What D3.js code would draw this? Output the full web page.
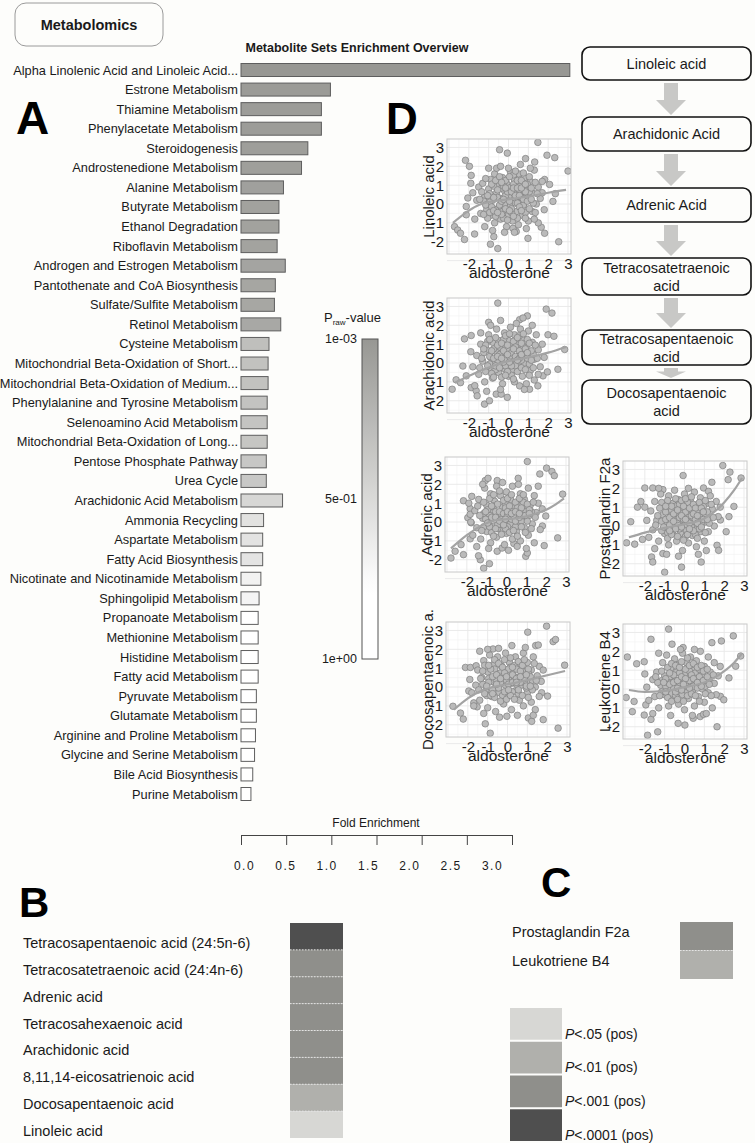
<!DOCTYPE html>
<html><head><meta charset="utf-8">
<script src="https://cdn.jsdelivr.net/npm/d3@7"></script>
<style>
body{margin:0;background:#fdfdfb;}
svg{display:block;font-family:"Liberation Sans",Arial,Helvetica,sans-serif;}
</style></head><body>
<svg id="fig" width="755" height="1143"></svg>
<script>
// ---------------- DATA ----------------
const barCategories = ["Alpha Linolenic Acid and Linoleic Acid...","Estrone Metabolism","Thiamine Metabolism","Phenylacetate Metabolism","Steroidogenesis","Androstenedione Metabolism","Alanine Metabolism","Butyrate Metabolism","Ethanol Degradation","Riboflavin Metabolism","Androgen and Estrogen Metabolism","Pantothenate and CoA Biosynthesis","Sulfate/Sulfite Metabolism","Retinol Metabolism","Cysteine Metabolism","Mitochondrial Beta-Oxidation of Short...","Mitochondrial Beta-Oxidation of Medium...","Phenylalanine and Tyrosine Metabolism","Selenoamino Acid Metabolism","Mitochondrial Beta-Oxidation of Long...","Pentose Phosphate Pathway","Urea Cycle","Arachidonic Acid Metabolism","Ammonia Recycling","Aspartate Metabolism","Fatty Acid Biosynthesis","Nicotinate and Nicotinamide Metabolism","Sphingolipid Metabolism","Propanoate Metabolism","Methionine Metabolism","Histidine Metabolism","Fatty acid Metabolism","Pyruvate Metabolism","Glutamate Metabolism","Arginine and Proline Metabolism","Glycine and Serine Metabolism","Bile Acid Biosynthesis","Purine Metabolism"];
const foldEnrichment = [3.64,0.99,0.89,0.89,0.74,0.67,0.47,0.42,0.42,0.40,0.49,0.38,0.37,0.44,0.31,0.30,0.30,0.29,0.29,0.29,0.28,0.28,0.46,0.25,0.24,0.24,0.22,0.20,0.19,0.19,0.19,0.19,0.17,0.17,0.16,0.15,0.13,0.11];
const pRaw = [0.002,0.03,0.04,0.04,0.05,0.06,0.07,0.08,0.08,0.09,0.10,0.11,0.12,0.13,0.30,0.32,0.32,0.33,0.34,0.35,0.36,0.37,0.48,0.56,0.57,0.58,0.68,0.70,0.80,0.82,0.84,0.85,0.88,0.90,0.92,0.94,0.96,0.98];
const foldTicks = [0,0.5,1,1.5,2,2.5,3];
const pLegendTicks = [0.001,0.5,1];
const pLegendLabels = ["1e-03","5e-01","1e+00"];

const flowSteps = [["Linoleic acid"],["Arachidonic Acid"],["Adrenic Acid"],["Tetracosatetraenoic","acid"],["Tetracosapentaenoic","acid"],["Docosapentaenoic","acid"]];

const scatterTicks = [-2,-1,0,1,2,3];
const gridMajor = [-3,-2,-1,0,1,2,3];
const gridMinor = [-2.5,-1.5,-0.5,0.5,1.5,2.5];

const linoleicPts = [[1.48,3.27],[-0.45,2.88],[-0.06,2.7],[-2.17,2.32],[1.94,2.59],[2.33,2.46],[3.0,1.75],[-1.88,1.52],[-1.97,2.0],[1.32,2.23],[0.86,2.41],[1.82,1.3],[2.07,1.04],[2.36,0.55],[2.24,0.14],[-2.72,-1.2],[-2.56,-1.38],[-2.42,-1.55],[-2.22,-1.88],[-1.71,-1.59],[-0.91,-2.13],[-0.54,-2.36],[-0.74,-1.73],[0.98,-1.82],[2.53,-2.0],[1.65,-1.23],[1.82,-1.55],[0.39,-1.46],[0.22,-1.29],[-2.05,0.32],[-2.13,-0.13],[-2.13,-0.57],
[-1.5,0.9],[-1.3,1.1],[-1.2,0.4],[-1.1,-0.3],[-1.0,0.8],[-0.9,1.3],[-0.9,-0.6],[-0.8,0.2],[-0.7,1.6],[-0.7,-1.0],[-0.6,0.6],[-0.5,-0.2],[-0.5,1.0],[-0.4,0.3],[-0.4,-0.8],[-0.3,1.4],[-0.3,-0.4],[-0.2,0.7],[-0.2,0.0],[-0.1,-1.2],[-0.1,1.1],[0.0,0.4],[0.0,-0.6],[0.1,1.7],[0.1,-0.1],[0.2,0.9],[0.2,-0.9],[0.3,0.2],[0.3,1.3],[0.4,-0.4],[0.4,0.6],[0.5,1.6],[0.5,-1.1],[0.6,0.1],[0.6,1.0],[0.7,-0.6],[0.7,0.5],[0.8,1.4],[0.8,-0.2],[0.9,0.8],[1.0,-0.9],[1.0,0.3],[1.1,1.2],[1.2,-0.4],[1.2,0.6],[1.3,1.8],[1.4,0.0],[1.5,-1.0],[1.5,0.9],[1.6,0.3],[-1.4,-0.5],[-1.6,0.2],[-1.2,-1.2],[-1.0,1.9],[-0.8,-1.4],[-0.6,1.9],[-0.4,2.0],[-0.2,-1.5],[0.0,1.9],[0.3,-1.5],[0.6,2.1],[0.9,-1.3],[1.1,1.9],[1.3,-0.8],[-1.8,0.6],[-1.7,-0.8],[-1.9,1.1],[1.7,1.2],[1.8,-0.3],[1.7,0.6],[-0.95,0.1],[-0.65,-0.3],[-0.35,0.85],[-0.15,0.45],[0.15,-0.45],[0.35,0.05],[0.55,0.75],[0.75,-0.05],[0.95,1.05],[-0.55,0.35],[-0.25,-0.75],[0.05,0.85],[0.25,1.55],[0.45,-0.75],[0.65,0.35],[0.85,-0.45],[-0.75,0.95],[-1.05,-0.75],[-1.25,0.15],[1.05,0.65]];
const linoleicCore = [[-1.35,0.65],[-1.15,1.35],[-1.15,-0.05],[-0.95,0.55],[-0.85,-0.15],[-0.85,1.05],[-0.75,0.35],[-0.65,1.25],[-0.65,-0.65],[-0.55,0.75],[-0.45,-0.05],[-0.45,1.45],[-0.35,0.15],[-0.35,-0.55],[-0.25,0.95],[-0.25,0.25],[-0.15,1.25],[-0.15,-0.25],[-0.05,0.65],[-0.05,-0.85],[0.05,0.15],[0.05,1.45],[0.15,0.65],[0.15,-0.25],[0.25,1.05],[0.25,-0.65],[0.35,0.45],[0.35,1.75],[0.45,0.05],[0.45,1.25],[0.55,-0.15],[0.55,0.45],[0.65,1.25],[0.65,-0.35],[0.75,0.25],[0.75,1.65],[0.85,0.65],[0.85,-0.75],[0.95,0.15],[1.05,1.45],[1.05,-0.25],[1.15,0.85],[1.25,0.05],[1.35,1.15],[1.35,-0.45],[1.45,0.55],[-1.45,0.25],[-1.25,-0.55],[-1.05,0.45],[-0.95,-0.45],[-0.75,-0.35],[-0.55,-0.45],[-0.35,1.15],[0.05,-0.35],[0.25,0.85],[0.45,0.85],[0.65,0.85],[0.85,1.05],[1.15,0.25],[-0.15,0.85]];
const linoleicFit = [[-2.8,-1.0],[-2,-0.35],[-1.5,-0.05],[-1,0.1],[0,0.25],[1,0.4],[2,0.6],[2.9,0.75]];

const arachidonicPts = [[-0.54,3.18],[-1.0,2.16],[-0.4,2.26],[0.95,2.5],[0.56,2.3],[0.73,2.39],[1.9,2.86],[2.19,2.65],[1.99,1.5],[2.29,1.42],[2.83,0.72],[2.49,-0.33],[-2.22,1.28],[-1.88,1.46],[-2.3,-0.16],[-2.84,-1.39],[-2.64,-0.89],[-2.42,-1.04],[-2.13,-0.68],[-1.88,-1.3],[-1.63,-1.47],[-1.58,-1.74],[-1.21,-2.18],[-0.96,-2.0],[-0.62,-1.65],[-0.37,-1.65],[-0.06,-1.82],[0.56,-1.21],[1.06,-1.39],[1.48,-1.21],[1.74,-0.68],[1.96,-0.47],
[-1.6,0.4],[-1.5,-0.6],[-1.4,1.0],[-1.3,0.1],[-1.2,-1.0],[-1.1,0.7],[-1.0,1.5],[-1.0,-0.3],[-0.9,0.3],[-0.8,1.1],[-0.8,-0.8],[-0.7,0.0],[-0.6,1.8],[-0.6,0.6],[-0.5,-0.5],[-0.5,1.2],[-0.4,0.2],[-0.3,-1.1],[-0.3,0.9],[-0.2,1.6],[-0.2,-0.3],[-0.1,0.5],[0.0,-0.7],[0.0,1.2],[0.1,0.1],[0.1,1.9],[0.2,-0.4],[0.2,0.8],[0.3,1.5],[0.3,-1.0],[0.4,0.3],[0.5,1.1],[0.5,-0.2],[0.6,1.8],[0.6,0.6],[0.7,-0.7],[0.7,1.3],[0.8,0.0],[0.9,0.9],[0.9,-1.1],[1.0,1.7],[1.0,0.4],[1.1,-0.4],[1.2,1.1],[1.3,0.2],[1.3,-0.9],[1.4,1.5],[1.5,0.7],[1.6,-0.2],[1.7,1.0],[-1.8,-0.2],[-1.9,0.6],[-1.7,-1.2],[-1.4,1.6],[-1.1,-1.5],[-0.9,2.0],[-0.4,-1.4],[0.4,2.1],[0.8,-1.4],[1.2,2.0],[1.5,-0.6],[1.8,0.3],[-1.25,0.55],[-0.95,-0.05],[-0.75,0.75],[-0.55,0.15],[-0.35,0.55],[-0.15,-0.15],[0.05,0.65],[0.25,0.25],[0.45,0.95],[0.65,0.15],[0.85,0.55],[1.05,-0.05],[-0.65,-0.35],[-0.25,1.25],[0.15,-0.65],[0.55,1.45],[0.95,1.25],[-1.05,1.15],[1.25,0.45],[-0.45,0.85],[0.35,-0.15],[0.75,0.85]];
const arachidonicCore = [[-1.35,0.25],[-1.15,0.95],[-1.15,-0.45],[-0.95,0.35],[-0.85,-0.55],[-0.85,0.65],[-0.75,0.25],[-0.65,1.35],[-0.65,-0.15],[-0.55,0.95],[-0.45,-0.25],[-0.45,0.45],[-0.35,1.05],[-0.35,-0.75],[-0.25,0.05],[-0.25,0.65],[-0.15,1.45],[-0.15,0.25],[-0.05,-0.45],[-0.05,0.95],[0.05,0.35],[0.05,1.55],[0.15,-0.15],[0.15,0.55],[0.25,1.15],[0.25,-0.85],[0.35,0.35],[0.35,0.85],[0.45,-0.45],[0.45,1.35],[0.55,0.25],[0.55,0.65],[0.65,-0.25],[0.65,1.05],[0.75,0.45],[0.75,1.55],[0.85,-0.35],[0.85,0.75],[0.95,0.25],[1.05,1.05],[1.05,-0.65],[1.15,0.65],[1.25,-0.25],[1.35,0.95],[1.45,0.25],[-1.45,-0.25],[-1.25,0.75],[-1.05,-0.15],[-0.95,1.25],[-0.75,-0.75],[-0.55,0.35],[-0.35,0.25],[-0.15,-0.65],[0.05,0.05],[0.25,0.75],[0.45,0.15],[0.65,0.45],[0.95,0.55],[1.15,0.15],[-0.05,0.45]];
const arachidonicFit = [[-2.7,-1.05],[-1.5,-0.45],[-0.5,-0.05],[0,0.1],[1,0.3],[2,0.55],[2.9,0.85]];

const adrenicPts = [[1.05,3.21],[1.68,2.55],[2.02,2.86],[2.29,2.68],[2.41,2.46],[-1.07,2.2],[-0.93,2.32],[-0.47,2.2],[0.59,2.32],[2.83,1.48],[-2.17,1.13],[-1.75,1.36],[-1.83,0.71],[-2.8,-1.91],[-2.59,-1.55],[-2.17,-1.73],[-2.29,-1.2],[-1.83,-0.89],[-1.15,-2.45],[-0.86,-2.21],[-1.32,-2.0],[-1.41,-1.79],[-0.47,-1.55],[-0.22,-1.38],[0.97,-1.82],[1.05,-1.64],[0.37,-1.14],[0.54,-1.29],[1.9,-1.25],[2.58,-0.84],[1.98,0.32],[1.81,-0.21],[-1.78,-0.04],[-1.95,0.23],[-1.83,0.41],
[-1.6,0.6],[-1.5,-0.3],[-1.4,1.2],[-1.3,-0.9],[-1.2,0.2],[-1.1,1.8],[-1.0,-0.5],[-1.0,0.9],[-0.9,0.0],[-0.8,1.5],[-0.8,-1.1],[-0.7,0.5],[-0.6,-0.2],[-0.6,1.1],[-0.5,1.9],[-0.5,-0.8],[-0.4,0.3],[-0.3,1.4],[-0.3,-0.4],[-0.2,0.8],[-0.1,-1.2],[-0.1,0.1],[0.0,1.6],[0.0,-0.6],[0.1,0.6],[0.2,-0.1],[0.2,1.2],[0.3,1.9],[0.3,-0.9],[0.4,0.4],[0.5,1.0],[0.5,-0.5],[0.6,0.0],[0.7,1.5],[0.7,-1.0],[0.8,0.7],[0.9,-0.3],[0.9,1.2],[1.0,0.2],[1.1,1.8],[1.1,-0.7],[1.2,0.9],[1.3,-0.1],[1.4,1.4],[1.4,-1.1],[1.5,0.5],[1.6,1.0],[1.7,-0.4],[1.6,1.9],[1.8,0.7],[-1.8,0.0],[-1.7,-0.7],[-1.9,1.0],[-1.5,-1.3],[-1.2,2.0],[-0.9,-1.4],[-0.2,2.1],[0.1,-1.5],[0.6,2.0],[1.0,-1.4],[-1.15,0.45],[-0.85,0.35],[-0.65,0.85],[-0.45,-0.35],[-0.25,0.35],[-0.05,0.95],[0.15,0.25],[0.35,0.75],[0.55,0.35],[0.75,0.05],[0.95,0.55],[1.15,0.35],[-0.75,-0.55],[-0.35,-0.05],[0.05,-0.25],[0.45,-0.25],[0.85,1.05],[1.25,0.55],[-1.05,0.15],[-0.55,0.55],[0.25,0.55],[0.65,0.65]];
const adrenicCore = [[-1.35,0.35],[-1.15,1.05],[-1.15,-0.25],[-0.95,0.65],[-0.85,-0.25],[-0.85,1.25],[-0.75,0.25],[-0.65,1.45],[-0.65,-0.75],[-0.55,0.25],[-0.45,0.95],[-0.45,-0.15],[-0.35,0.55],[-0.35,1.65],[-0.25,-0.65],[-0.25,0.15],[-0.15,1.15],[-0.15,0.45],[-0.05,-0.35],[-0.05,0.75],[0.05,0.35],[0.05,1.25],[0.15,-0.55],[0.15,0.85],[0.25,0.15],[0.25,1.45],[0.35,-0.45],[0.35,0.35],[0.45,1.05],[0.45,0.05],[0.55,0.75],[0.55,-0.75],[0.65,0.25],[0.65,1.25],[0.75,-0.25],[0.75,0.75],[0.85,0.35],[0.85,1.45],[0.95,-0.55],[1.05,0.95],[1.05,0.05],[1.15,0.65],[1.25,-0.35],[1.35,1.05],[1.45,0.25],[-1.45,0.85],[-1.25,-0.45],[-1.05,0.55],[-0.95,-0.05],[-0.75,0.85],[-0.55,-0.35],[-0.35,0.05],[-0.15,-0.15],[0.05,0.55],[0.25,0.45],[0.45,0.55],[0.65,0.45],[0.95,0.35],[1.15,0.45],[-0.05,0.15]];
const adrenicFit = [[-2.8,-1.4],[-2,-0.7],[-1.2,-0.15],[-0.5,0.1],[0.5,0.2],[1,0.3],[1.5,0.45],[2,0.65],[2.5,0.95],[2.9,1.25]];

const prostaglandinPts = [[1.93,3.21],[2.29,2.86],[2.85,2.55],[2.2,2.46],[-0.07,2.68],[-2.0,2.02],[-1.6,2.02],[-1.09,1.93],[-2.2,1.3],[-2.37,1.0],[-2.71,0.23],[-2.92,-0.89],[-2.51,-0.96],[-2.12,-0.71],[-1.66,-1.64],[-1.6,-1.91],[-1.09,-1.46],[-1.0,-2.45],[-0.15,-2.18],[0.84,-1.91],[1.64,-1.02],[1.72,-1.29],[2.1,-0.3],[1.81,0.32],[2.24,0.5],[2.49,1.04],[1.38,2.32],[0.96,2.02],[1.21,1.84],
[-1.7,0.8],[-1.6,-0.2],[-1.5,1.3],[-1.4,0.3],[-1.3,-0.8],[-1.2,1.7],[-1.1,0.6],[-1.0,-0.4],[-1.0,1.1],[-0.9,0.1],[-0.8,1.6],[-0.8,-1.0],[-0.7,0.5],[-0.6,-0.3],[-0.6,1.2],[-0.5,0.0],[-0.5,1.9],[-0.4,-0.8],[-0.4,0.7],[-0.3,1.4],[-0.2,-0.4],[-0.2,0.3],[-0.1,1.0],[-0.1,-1.3],[0.0,0.5],[0.0,1.7],[0.1,-0.2],[0.1,0.9],[0.2,-0.9],[0.3,0.3],[0.3,1.3],[0.4,-0.5],[0.4,0.8],[0.5,1.8],[0.5,0.1],[0.6,-1.1],[0.6,1.1],[0.7,0.4],[0.8,-0.3],[0.8,1.5],[0.9,0.7],[1.0,-0.8],[1.0,0.2],[1.1,1.2],[1.2,0.5],[1.2,-0.3],[1.3,1.6],[1.4,0.9],[1.5,0.0],[1.6,1.3],[-1.9,0.3],[-1.8,-0.6],[-2.0,1.0],[-1.5,-1.2],[-1.3,2.0],[-0.9,-1.5],[-0.3,-1.6],[0.2,2.0],[0.7,-1.5],[1.1,-1.3],[1.7,0.5],[1.8,1.0],[-1.15,0.25],[-0.95,0.75],[-0.75,0.05],[-0.55,0.45],[-0.35,0.15],[-0.15,0.65],[0.05,0.15],[0.25,0.55],[0.45,0.35],[0.65,0.75],[0.85,0.15],[1.05,0.55],[-0.65,0.85],[-0.25,-0.15],[0.15,1.25],[0.55,-0.45],[0.95,1.05],[-0.45,1.05],[0.35,-0.05],[0.75,-0.15],[-0.85,-0.35],[0.05,-0.55]];
const prostaglandinCore = [[-1.35,0.55],[-1.15,1.25],[-1.15,-0.25],[-0.95,0.35],[-0.85,-0.65],[-0.85,1.35],[-0.75,0.45],[-0.65,1.05],[-0.65,-0.45],[-0.55,0.65],[-0.45,-0.15],[-0.45,1.45],[-0.35,0.35],[-0.35,-0.55],[-0.25,1.15],[-0.25,0.45],[-0.15,-0.05],[-0.15,1.35],[-0.05,0.35],[-0.05,-0.75],[0.05,0.75],[0.05,1.45],[0.15,0.05],[0.15,-0.45],[0.25,0.95],[0.25,0.15],[0.35,1.55],[0.35,0.55],[0.45,-0.25],[0.45,1.15],[0.55,0.35],[0.55,0.95],[0.65,-0.65],[0.65,0.15],[0.75,1.25],[0.75,0.55],[0.85,-0.05],[0.85,0.95],[0.95,0.35],[1.05,-0.35],[1.05,1.35],[1.15,0.75],[1.25,0.15],[1.35,1.15],[1.45,0.45],[-1.45,0.05],[-1.25,0.95],[-1.05,-0.05],[-0.95,1.05],[-0.75,-0.25],[-0.55,0.25],[-0.35,0.85],[-0.15,0.55],[0.05,0.35],[0.25,-0.15],[0.45,0.65],[0.65,0.55],[0.95,0.75],[1.15,0.35],[-0.05,1.05]];
const prostaglandinFit = [[-2.8,-0.6],[-2,-0.35],[-1,-0.1],[0,0.1],[1,0.4],[1.5,0.75],[2,1.25],[2.5,1.9],[2.9,2.55]];

const docosapentaenoicPts = [[1.97,3.23],[1.02,2.91],[2.3,2.41],[2.42,2.52],[1.42,2.2],[1.55,2.23],[0.22,2.2],[-0.73,2.02],[-0.45,2.05],[-2.12,1.04],[-1.87,1.04],[-1.58,1.13],[2.88,1.16],[-2.37,-1.38],[-2.23,-1.7],[-2.75,-1.02],[-1.12,-1.95],[-0.87,-2.45],[-0.03,-1.55],[1.05,-1.64],[1.22,-1.82],[1.8,-1.73],[2.55,-2.18],[1.72,-0.3],[2.02,-0.48],[-1.7,-0.84],[-1.53,-1.05],[-1.95,-0.21],
[-1.6,0.1],[-1.5,0.9],[-1.4,-0.7],[-1.3,0.5],[-1.2,1.4],[-1.1,-0.2],[-1.0,0.8],[-1.0,-1.1],[-0.9,1.7],[-0.8,0.3],[-0.8,-0.5],[-0.7,1.2],[-0.6,0.0],[-0.6,-1.3],[-0.5,0.7],[-0.5,1.6],[-0.4,-0.3],[-0.3,0.4],[-0.3,1.1],[-0.2,-0.9],[-0.1,0.1],[-0.1,1.8],[0.0,0.8],[0.0,-0.5],[0.1,1.3],[0.2,0.2],[0.2,-1.2],[0.3,0.9],[0.4,-0.2],[0.4,1.6],[0.5,0.5],[0.6,-0.7],[0.6,1.2],[0.7,0.1],[0.8,1.8],[0.8,-1.0],[0.9,0.6],[1.0,-0.3],[1.0,1.3],[1.1,0.3],[1.2,-0.8],[1.2,0.9],[1.3,1.6],[1.4,0.0],[1.4,-1.2],[1.5,0.6],[1.6,1.1],[1.6,-0.5],[1.7,0.3],[1.8,0.9],[-1.8,-0.3],[-1.9,0.4],[-1.7,-1.0],[-1.4,1.9],[-1.0,2.0],[-0.4,-1.6],[0.5,-1.5],[0.9,2.1],[1.3,-1.5],[-1.2,-1.4],[-1.25,0.15],[-0.95,0.45],[-0.75,-0.15],[-0.55,0.35],[-0.35,0.75],[-0.15,0.35],[0.05,0.45],[0.25,-0.25],[0.45,0.15],[0.65,0.55],[0.85,0.25],[1.05,0.75],[-0.65,0.95],[-0.25,-0.45],[0.15,1.05],[0.55,-0.35],[0.95,-0.05],[-1.05,-0.45],[0.35,0.55],[0.75,0.85],[-0.45,0.05],[1.25,0.35]];
const docosapentaenoicCore = [[-1.35,0.45],[-1.15,1.15],[-1.15,-0.35],[-0.95,0.25],[-0.85,-0.45],[-0.85,0.95],[-0.75,0.55],[-0.65,1.45],[-0.65,-0.55],[-0.55,0.65],[-0.45,-0.05],[-0.45,1.25],[-0.35,0.25],[-0.35,-0.75],[-0.25,1.05],[-0.25,0.55],[-0.15,-0.25],[-0.15,1.45],[-0.05,0.35],[-0.05,-0.65],[0.05,0.95],[0.05,0.15],[0.15,1.55],[0.15,-0.45],[0.25,0.65],[0.25,0.25],[0.35,1.15],[0.35,-0.65],[0.45,0.45],[0.45,0.95],[0.55,-0.15],[0.55,1.35],[0.65,0.25],[0.65,0.85],[0.75,-0.45],[0.75,1.15],[0.85,0.45],[0.85,1.45],[0.95,0.05],[1.05,0.95],[1.05,-0.55],[1.15,0.55],[1.25,-0.15],[1.35,1.25],[1.45,0.35],[-1.45,-0.15],[-1.25,0.85],[-1.05,0.05],[-0.95,1.15],[-0.75,-0.35],[-0.55,0.15],[-0.35,0.45],[-0.15,0.75],[0.05,-0.15],[0.25,1.05],[0.45,0.25],[0.65,0.55],[0.95,0.65],[1.15,0.05],[-0.05,0.55]];
const docosapentaenoicFit = [[-2.7,-1.2],[-2,-0.6],[-1.2,-0.15],[-0.5,0.05],[0.5,0.25],[1.5,0.5],[2.9,0.85]];

const leukotrienePts = [[-0.8,3.18],[-1.69,2.64],[2.46,2.82],[1.38,2.46],[1.86,2.55],[-2.88,1.7],[-2.41,1.34],[-2.03,1.45],[-0.63,2.38],[-0.07,2.2],[2.83,1.75],[-2.94,-0.45],[-2.54,-0.66],[-1.95,-0.84],[-2.63,-1.2],[-2.03,-1.38],[-1.69,-1.61],[-1.86,-2.45],[-1.35,-2.27],[-0.32,-1.82],[0.02,-1.91],[0.44,-1.55],[0.79,-1.46],[0.96,-1.34],[1.64,-2.0],[1.81,-0.39],[1.98,-0.57],[2.24,0.59],[2.58,1.21],
[-1.6,0.5],[-1.5,-0.4],[-1.4,0.9],[-1.3,-1.0],[-1.2,0.2],[-1.1,1.4],[-1.0,-0.3],[-1.0,0.7],[-0.9,1.8],[-0.8,0.0],[-0.8,-0.9],[-0.7,1.1],[-0.6,0.4],[-0.6,-0.5],[-0.5,1.6],[-0.4,0.1],[-0.4,0.9],[-0.3,-0.8],[-0.3,1.3],[-0.2,0.5],[-0.1,-0.3],[-0.1,1.9],[0.0,0.8],[0.0,-1.1],[0.1,0.2],[0.1,1.4],[0.2,-0.5],[0.3,0.6],[0.3,1.7],[0.4,-0.1],[0.5,1.0],[0.5,-0.9],[0.6,0.3],[0.6,1.5],[0.7,-0.4],[0.8,0.8],[0.8,2.0],[0.9,0.0],[1.0,1.2],[1.0,-0.7],[1.1,0.5],[1.2,1.7],[1.2,-0.2],[1.3,0.9],[1.4,-1.0],[1.5,0.3],[1.5,1.4],[1.6,-0.3],[1.7,0.7],[1.8,1.2],[-1.9,0.1],[-1.8,-0.6],[-2.0,0.8],[-1.6,-1.3],[-1.3,1.9],[-0.7,-1.4],[-0.2,2.1],[0.4,-1.4],[1.1,-1.3],[0.5,2.1],[-1.15,0.45],[-0.95,0.15],[-0.75,0.65],[-0.55,0.05],[-0.35,0.45],[-0.15,0.15],[0.05,0.45],[0.25,0.95],[0.45,0.35],[0.65,0.65],[0.85,0.35],[1.05,0.15],[-0.65,-0.25],[-0.25,0.85],[0.15,-0.15],[0.55,0.85],[0.95,0.65],[-0.85,0.35],[0.35,0.25],[0.75,1.05],[-0.45,-0.35],[1.25,0.55]];
const leukotrieneCore = [[-1.35,0.35],[-1.15,0.95],[-1.15,-0.15],[-0.95,0.55],[-0.85,-0.45],[-0.85,1.15],[-0.75,0.25],[-0.65,1.35],[-0.65,-0.65],[-0.55,0.75],[-0.45,-0.15],[-0.45,1.25],[-0.35,0.05],[-0.35,-0.55],[-0.25,1.15],[-0.25,0.35],[-0.15,-0.05],[-0.15,1.45],[-0.05,0.55],[-0.05,-0.65],[0.05,1.05],[0.05,0.25],[0.15,1.65],[0.15,-0.35],[0.25,0.45],[0.25,1.25],[0.35,-0.25],[0.35,0.75],[0.45,1.35],[0.45,0.15],[0.55,-0.35],[0.55,0.55],[0.65,1.15],[0.65,0.05],[0.75,0.65],[0.75,-0.65],[0.85,1.25],[0.85,0.15],[0.95,0.95],[1.05,-0.25],[1.05,0.45],[1.15,1.05],[1.25,0.25],[1.35,-0.35],[1.45,0.75],[-1.45,0.65],[-1.25,-0.35],[-1.05,0.35],[-0.95,-0.15],[-0.75,0.85],[-0.55,0.35],[-0.35,0.45],[-0.15,0.65],[0.05,0.55],[0.25,0.05],[0.45,0.55],[0.65,0.35],[0.95,0.45],[1.15,0.65],[-0.05,0.25]];
const leukotrieneFit = [[-2.8,-0.05],[-2,-0.15],[-1,-0.1],[0,0.1],[0.5,0.2],[1,0.35],[1.5,0.6],[2,0.95],[2.5,1.4],[2.9,1.9]];

const bCategories = ["Tetracosapentaenoic acid (24:5n-6)","Tetracosatetraenoic acid (24:4n-6)","Adrenic acid","Tetracosahexaenoic acid","Arachidonic acid","8,11,14-eicosatrienoic acid","Docosapentaenoic acid","Linoleic acid"];
const bLevels = [4,3,3,3,3,3,2,1];
const cCategories = ["Prostaglandin F2a","Leukotriene B4"];
const cLevels = [3,2];
const sigLevels = [1,2,3,4];
const sigLabels = [".05 (pos)",".01 (pos)",".001 (pos)",".0001 (pos)"];
const sigColors = ["#d7d7d4","#b0b0ac","#8f8f8b","#4f4f4f"];

// ---------------- DRAW ----------------
const svg = d3.select("#fig");
svg.append("rect").attr("width",755).attr("height",1143).attr("fill","#fdfdfb");
const TXT = "#1a1a1a";
const FONT = "Liberation Sans, Arial, sans-serif";

svg.append("rect").attr("x",15).attr("y",3).attr("width",148).attr("height",43).attr("rx",11)
  .attr("fill","#fdfdfb").attr("stroke","#9a9a9a").attr("stroke-width",1);
svg.append("text").attr("x",89).attr("y",30).attr("text-anchor","middle").attr("font-size",14.5)
  .attr("font-weight","bold").attr("fill",TXT).text("Metabolomics");

const letters = [["A",16,134,46],["D",386,134,44],["B",19,917,42],["C",541,897,42]];
svg.selectAll("text.letter").data(letters).join("text").attr("class","letter")
  .attr("x",d=>d[1]).attr("y",d=>d[2]).attr("font-size",d=>d[3]).attr("font-weight","bold").attr("fill","#000").text(d=>d[0]);

// ---- Panel A ----
svg.append("text").attr("x",357).attr("y",52).attr("text-anchor","middle").attr("font-size",12.5)
  .attr("font-weight","bold").attr("fill",TXT).text("Metabolite Sets Enrichment Overview");

const barX = d3.scaleLinear().domain([0,3]).range([241,512]);
const barY = d3.scalePoint().domain(barCategories).range([70,794]);
const pColor = d3.scaleLinear().domain([0.001,0.78,1]).range(["#979793","#ffffff","#ffffff"]).clamp(true);
const gA = svg.append("g");
gA.selectAll("rect.bar").data(barCategories).join("rect").attr("class","bar")
  .attr("x",barX(0)).attr("y",d=>barY(d)-6.5)
  .attr("width",(d,i)=>barX(foldEnrichment[i])-barX(0)).attr("height",13)
  .attr("fill",(d,i)=>pColor(pRaw[i])).attr("stroke","#5e5e5e").attr("stroke-width",1);
gA.selectAll("text.blab").data(barCategories).join("text").attr("class","blab")
  .attr("x",238).attr("y",d=>barY(d)+4.5).attr("text-anchor","end").attr("font-size",12.8)
  .attr("fill",TXT).text(d=>d);

const axG = svg.append("g").attr("transform","translate(0,835)")
  .call(d3.axisBottom(barX).tickValues(foldTicks).tickSize(10).tickSizeOuter(0).tickFormat(""));
axG.selectAll("path,line").attr("stroke","#444");
const foldLabelX = d3.scaleLinear().domain([0,3]).range([244,492]);
const axL = svg.append("g").attr("transform","translate(0,861)")
  .call(d3.axisBottom(foldLabelX).tickValues(foldTicks).tickSize(0).tickPadding(0).tickFormat(d3.format(".1f")));
axL.select(".domain").remove();
axL.selectAll("text").attr("font-size",12).attr("letter-spacing","1.5px").attr("fill",TXT).attr("font-family",FONT);
svg.append("text").attr("x",376).attr("y",827).attr("text-anchor","middle").attr("font-size",12)
  .attr("fill",TXT).text("Fold Enrichment");

const defs = svg.append("defs");
const grad = defs.append("linearGradient").attr("id","pgrad").attr("x1",0).attr("y1",0).attr("x2",0).attr("y2",1);
const legendY = d3.scaleLinear().domain([0.001,1]).range([339,659]);
d3.range(0,21).forEach(k=>{ const t=k/20; grad.append("stop").attr("offset",t)
  .attr("stop-color",pColor(legendY.invert(339+t*320))); });
svg.append("rect").attr("x",362).attr("y",339).attr("width",16).attr("height",320)
  .attr("fill","url(#pgrad)").attr("stroke","#555").attr("stroke-width",1);
svg.selectAll("text.plab").data(pLegendTicks).join("text").attr("class","plab")
  .attr("x",357).attr("y",d=>legendY(d)+4).attr("text-anchor","end").attr("font-size",12.5)
  .attr("fill",TXT).text((d,i)=>pLegendLabels[i]);
const pt = svg.append("text").attr("x",324).attr("y",322).attr("fill",TXT).attr("font-size",13);
pt.append("tspan").text("P");
pt.append("tspan").attr("font-size",8).attr("dy",3).text("raw");
pt.append("tspan").attr("dy",-3).text("-value");

// ---- Flow chart ----
const flowTop = [47,117,188,258,330,380];
const flowBot = [80,151,222,295,365,424];
const fx0 = 582, fx1 = 751, fcx = (fx0+fx1)/2, acx = 671;
const gF = svg.append("g");
flowSteps.forEach((lines,i)=>{
  gF.append("rect").attr("x",fx0).attr("y",flowTop[i]).attr("width",fx1-fx0).attr("height",flowBot[i]-flowTop[i])
    .attr("rx",8).attr("fill","#fdfdfb").attr("stroke","#111").attr("stroke-width",1.6);
  const cy = (flowTop[i]+flowBot[i])/2;
  lines.forEach((ln,j)=>{
    const off = lines.length===1 ? 0 : (j===0 ? -9 : 9);
    gF.append("text").attr("x",fcx).attr("y",cy+off+5).attr("text-anchor","middle").attr("font-size",14.5)
      .attr("fill",TXT).text(ln);
  });
  if(i<flowSteps.length-1){
    const y0 = flowBot[i]+3, y1 = flowTop[i+1]-2, L = y1-y0;
    const hl = Math.min(15, L*0.65);
    const p = d3.path();
    p.moveTo(acx-7,y0); p.lineTo(acx+7,y0); p.lineTo(acx+7,y1-hl); p.lineTo(acx+15,y1-hl);
    p.lineTo(acx,y1); p.lineTo(acx-15,y1-hl); p.lineTo(acx-7,y1-hl); p.closePath();
    gF.append("path").attr("d",p.toString()).attr("fill","#c8c8c6");
  }
});

// ---- Scatter panels ----
const panels = [
  {label:"Linoleic acid", pts:linoleicPts.concat(linoleicCore), fit:linoleicFit, x0:447, y0:139},
  {label:"Arachidonic acid", pts:arachidonicPts.concat(arachidonicCore), fit:arachidonicFit, x0:447, y0:298},
  {label:"Adrenic acid", pts:adrenicPts.concat(adrenicCore), fit:adrenicFit, x0:445, y0:457},
  {label:"Prostaglandin F2a", pts:prostaglandinPts.concat(prostaglandinCore), fit:prostaglandinFit, x0:623, y0:461},
  {label:"Docosapentaenoic a.", pts:docosapentaenoicPts.concat(docosapentaenoicCore), fit:docosapentaenoicFit, x0:446, y0:622},
  {label:"Leukotriene B4", pts:leukotrienePts.concat(leukotrieneCore), fit:leukotrieneFit, x0:623, y0:624}
];
const PW = 124, PH = 115;
const intFmt = d => String(d);
panels.forEach((p,k)=>{
  const x = d3.scaleLinear().domain([-3.1,3.15]).range([p.x0,p.x0+PW]);
  const y = d3.scaleLinear().domain([-2.65,3.45]).range([p.y0+PH,p.y0]);
  const g = svg.append("g");
  g.append("rect").attr("x",p.x0).attr("y",p.y0).attr("width",PW).attr("height",PH).attr("fill","#ffffff");
  g.selectAll("line.vmin").data(gridMinor).join("line").attr("x1",d=>x(d)).attr("x2",d=>x(d))
    .attr("y1",p.y0).attr("y2",p.y0+PH).attr("stroke","#f1f1f1").attr("stroke-width",0.6);
  g.selectAll("line.hmin").data(gridMinor).join("line").attr("y1",d=>y(d)).attr("y2",d=>y(d))
    .attr("x1",p.x0).attr("x2",p.x0+PW).attr("stroke","#f1f1f1").attr("stroke-width",0.6);
  g.selectAll("line.vmaj").data(gridMajor).join("line").attr("x1",d=>x(d)).attr("x2",d=>x(d))
    .attr("y1",p.y0).attr("y2",p.y0+PH).attr("stroke","#e8e8e8").attr("stroke-width",0.9);
  g.selectAll("line.hmaj").data(gridMajor).join("line").attr("y1",d=>y(d)).attr("y2",d=>y(d))
    .attr("x1",p.x0).attr("x2",p.x0+PW).attr("stroke","#e8e8e8").attr("stroke-width",0.9);
  const cid = "clip"+k;
  defs.append("clipPath").attr("id",cid).append("rect").attr("x",p.x0).attr("y",p.y0).attr("width",PW).attr("height",PH);
  const gp = g.append("g").attr("clip-path",`url(#${cid})`);
  gp.selectAll("circle").data(p.pts).join("circle").attr("cx",d=>x(d[0])).attr("cy",d=>y(d[1])).attr("r",3.3)
    .attr("fill","#bababa").attr("stroke","#7e7e7e").attr("stroke-width",0.7);
  gp.append("path").attr("d",d3.line().x(d=>x(d[0])).y(d=>y(d[1])).curve(d3.curveMonotoneX)(p.fit))
    .attr("fill","none").attr("stroke","#a3a3a3").attr("stroke-width",2.2);
  g.append("rect").attr("x",p.x0).attr("y",p.y0).attr("width",PW).attr("height",PH)
    .attr("fill","none").attr("stroke","#c8c8c8").attr("stroke-width",1);
  const ay = g.append("g").attr("transform",`translate(${p.x0},0)`)
    .call(d3.axisLeft(y).tickValues(scatterTicks).tickSize(0).tickPadding(3).tickFormat(intFmt));
  ay.select(".domain").remove();
  ay.selectAll("text").attr("font-size",15).attr("fill",TXT).attr("font-family",FONT);
  const ax = g.append("g").attr("transform",`translate(0,${p.y0+PH})`)
    .call(d3.axisBottom(x).tickValues(scatterTicks).tickSize(0).tickPadding(4).tickFormat(intFmt));
  ax.select(".domain").remove();
  ax.selectAll("text").attr("font-size",15).attr("fill",TXT).attr("font-family",FONT);
  g.append("text").attr("x",x(0)+1).attr("y",p.y0+PH+24).attr("text-anchor","middle").attr("font-size",15.5)
    .attr("fill",TXT).text("aldosterone");
  g.append("text").attr("transform",`translate(${p.x0-13},${p.y0+PH/2}) rotate(-90)`).attr("text-anchor","middle")
    .attr("font-size",15).attr("fill",TXT).text(p.label);
});

// ---- Panel B ----
const bY = d3.scaleBand().domain(bCategories).range([923,1138]);
const sigColor = d3.scaleOrdinal().domain(sigLevels).range(sigColors);
const gB = svg.append("g");
gB.selectAll("rect").data(bCategories).join("rect").attr("x",290).attr("y",d=>bY(d)).attr("width",53)
  .attr("height",bY.bandwidth()).attr("fill",(d,i)=>sigColor(bLevels[i]));
gB.selectAll("line").data(bCategories.slice(1)).join("line").attr("x1",290).attr("x2",343)
  .attr("y1",d=>bY(d)).attr("y2",d=>bY(d)).attr("stroke","#e4e4e4").attr("stroke-width",1).attr("stroke-dasharray","1.5,1.5");
gB.selectAll("text").data(bCategories).join("text").attr("x",23).attr("y",d=>bY(d)+bY.bandwidth()-2)
  .attr("font-size",14.5).attr("fill",TXT).text(d=>d);

// ---- Panel C ----
const cY = d3.scaleBand().domain(cCategories).range([922,979]);
const gC = svg.append("g");
gC.selectAll("rect").data(cCategories).join("rect").attr("x",680).attr("y",d=>cY(d)).attr("width",53)
  .attr("height",cY.bandwidth()).attr("fill",(d,i)=>sigColor(cLevels[i]));
gC.selectAll("line").data(cCategories.slice(1)).join("line").attr("x1",680).attr("x2",733)
  .attr("y1",d=>cY(d)).attr("y2",d=>cY(d)).attr("stroke","#e4e4e4").attr("stroke-dasharray","1.5,1.5");
gC.selectAll("text").data(cCategories).join("text").attr("x",512).attr("y",d=>cY(d)+cY.bandwidth()/2+1)
  .attr("font-size",14.5).attr("fill",TXT).text(d=>d);

const lY = d3.scaleBand().domain(sigLevels).range([1008,1141]).paddingInner(0.06);
const gL = svg.append("g");
gL.selectAll("rect").data(sigLevels).join("rect").attr("x",510).attr("y",d=>lY(d)).attr("width",52)
  .attr("height",lY.bandwidth()).attr("fill",d=>sigColor(d));
const lt = gL.selectAll("text").data(sigLevels).join("text").attr("x",565).attr("y",d=>lY(d)+lY.bandwidth()-1)
  .attr("font-size",14).attr("fill",TXT);
lt.append("tspan").attr("font-style","italic").text("P");
lt.append("tspan").text((d,i)=>"<"+sigLabels[i]);
</script></body></html>
